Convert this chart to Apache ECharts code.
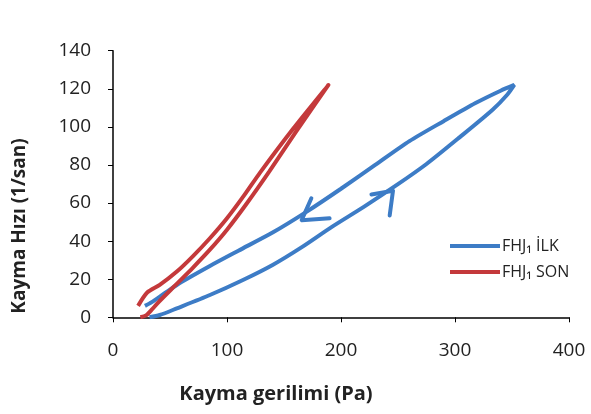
<!DOCTYPE html>
<html>
<head>
<meta charset="utf-8">
<script src="https://cdn.jsdelivr.net/npm/echarts@6/dist/echarts.min.js"></script>
<style>html,body{margin:0;padding:0;background:#fff;}#c{width:591px;height:414px;}</style>
</head>
<body>
<div id="c"></div>
<script>
var xTicks = [0, 100, 200, 300, 400];
var yTicks = [0, 20, 40, 60, 80, 100, 120, 140];
var seriesNames = ['FHJ\u2081 \u0130LK', 'FHJ\u2081 SON'];
var xTitle = 'Kayma gerilimi (Pa)';
var yTitle = 'Kayma H\u0131z\u0131 (1/san)';

// Blue loop (FHJ1 İLK): up branch then down branch
var ilkUp = [[32,0],[41,1.2],[56,4.7],[85,11.7],[114,19.6],[140,27.5],[166,37],[192,47.5],[220,58],[249,69.5],[275,80.5],[304,94.5],[333,109],[346,117],[352,122]];
var ilkDown = [[352,122],[340,119],[318,112.5],[290,103],[260,92.5],[230,80],[200,67.5],[170,55.5],[140,44.5],[110,35],[85,27],[60,18.5],[45,12.5],[34,8],[28,6]];
// Red loop (FHJ1 SON)
var sonUp = [[24,0],[29,1],[34,4],[40,8],[55,17],[70,26],[85,35.5],[100,46],[117,59.5],[137,76.5],[160,97],[189,122]];
var sonDown = [[189,122],[158,99],[129,76],[115,64],[100,52],[85,41.5],[70,32],[56,24],[41,17],[30,13],[22,6]];
// Direction arrows on the blue loop (arm, tip, arm)
var arrowDown = [[174,62.5],[165.5,51],[190,52]];
var arrowUp = [[226.7,64.5],[245.6,66.5],[242.7,53.5]];

var blue = '#3d7cc6';
var red = '#c4393b';

var chart = echarts.init(document.getElementById('c'));
var ilk = ilkUp.concat(ilkDown.slice(1));
var son = sonUp.concat(sonDown.slice(1));
var font = '"Open Sans", sans-serif';

chart.setOption({
  animation: false,
  backgroundColor: '#fff',
  grid: {left: 113, right: 22, top: 50.7, bottom: 96.7, containLabel: false},
  xAxis: {
    type: 'value', min: xTicks[0], max: xTicks[xTicks.length-1], interval: 100,
    axisLine: {show: true, lineStyle: {color: '#000', width: 1.5}},
    axisTick: {show: true, length: 5, inside: false, lineStyle: {color: '#000'}},
    splitLine: {show: false},
    axisLabel: {color: '#222', fontSize: 19, fontFamily: font, margin: 24}
  },
  yAxis: {
    type: 'value', min: yTicks[0], max: yTicks[yTicks.length-1], interval: 20,
    axisLine: {show: true, lineStyle: {color: '#000', width: 1.5}},
    axisTick: {show: true, length: 5, lineStyle: {color: '#000'}},
    splitLine: {show: false},
    axisLabel: {color: '#222', fontSize: 19, fontFamily: font, margin: 22}
  },
  legend: {
    data: seriesNames, orient: 'vertical', left: 445, top: 233, itemGap: 10,
    itemWidth: 50, itemHeight: 4, icon: 'rect',
    textStyle: {fontSize: 16, fontFamily: font, color: '#222', padding: [0,0,0,-3]}
  },
  graphic: [
    {type: 'text', x: 276, y: 394, style: {text: xTitle, font: 'bold 20px ' + font, fill: '#222', align: 'center', verticalAlign: 'middle'}},
    {type: 'text', x: 20, y: 226, rotation: Math.PI/2, style: {text: yTitle, font: 'bold 19px ' + font, fill: '#222', align: 'center', verticalAlign: 'middle'}}
  ],
  series: [
    {name: seriesNames[0], type: 'line', data: ilk, smooth: 0.25, showSymbol: false, lineStyle: {color: blue, width: 4}, itemStyle: {color: blue}, z: 3},
    {name: seriesNames[1], type: 'line', data: son, smooth: 0.25, showSymbol: false, lineStyle: {color: red, width: 4}, itemStyle: {color: red}, z: 4},
    {name: 'arrow1', type: 'line', data: arrowDown, showSymbol: false, lineStyle: {color: blue, width: 4, cap: 'round', join: 'round'}, z: 3},
    {name: 'arrow2', type: 'line', data: arrowUp, showSymbol: false, lineStyle: {color: blue, width: 4, cap: 'round', join: 'round'}, z: 3}
  ]
});
</script>
</body>
</html>
